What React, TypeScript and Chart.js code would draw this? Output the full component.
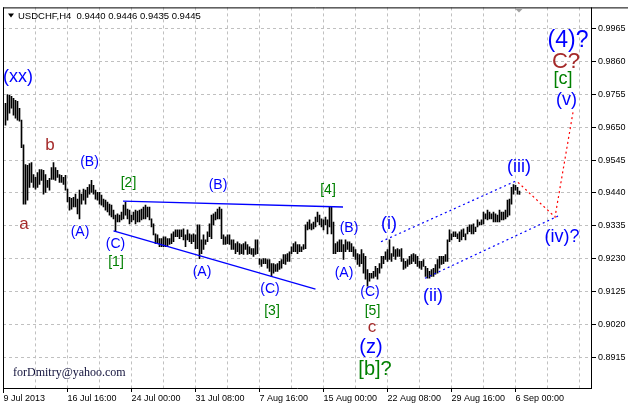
import React, { useEffect, useRef } from 'react';
import { Chart, registerables } from 'chart.js';

Chart.register(...registerables);

// ---- data: USDCHF H4 bars (high / low), oldest first ----
const barHigh = [
  0.9727, 0.9755, 0.9752, 0.9749, 0.9743, 0.9736, 0.9733, 0.9711, 0.9673, 0.9594,
  0.9531, 0.9528, 0.9534, 0.9537, 0.9499, 0.9490, 0.9505, 0.9515, 0.9515, 0.9512,
  0.9499, 0.9480, 0.9487, 0.9521, 0.9537, 0.9521, 0.9512, 0.9499, 0.9496, 0.9490,
  0.9496, 0.9452, 0.9426, 0.9423, 0.9426, 0.9436, 0.9420, 0.9449, 0.9436, 0.9452,
  0.9449, 0.9458, 0.9467, 0.9480, 0.9464, 0.9449, 0.9442, 0.9442, 0.9433, 0.9420,
  0.9417, 0.9411, 0.9404, 0.9401, 0.9385, 0.9369, 0.9373, 0.9369, 0.9379, 0.9401,
  0.9411, 0.9388, 0.9385, 0.9369, 0.9379, 0.9385, 0.9382, 0.9385, 0.9388, 0.9395,
  0.9401, 0.9395, 0.9395, 0.9357, 0.9341, 0.9309, 0.9306, 0.9294, 0.9294, 0.9300,
  0.9300, 0.9294, 0.9294, 0.9309, 0.9316, 0.9322, 0.9322, 0.9322, 0.9322, 0.9325,
  0.9306, 0.9322, 0.9309, 0.9306, 0.9309, 0.9306, 0.9338, 0.9338, 0.9290, 0.9306,
  0.9290, 0.9316, 0.9341, 0.9369, 0.9373, 0.9379, 0.9388, 0.9395, 0.9388, 0.9306,
  0.9300, 0.9306, 0.9306, 0.9290, 0.9290, 0.9278, 0.9284, 0.9278, 0.9275, 0.9278,
  0.9284, 0.9275, 0.9268, 0.9262, 0.9262, 0.9290, 0.9290, 0.9230, 0.9227, 0.9230,
  0.9230, 0.9227, 0.9227, 0.9214, 0.9214, 0.9211, 0.9214, 0.9221, 0.9227, 0.9243,
  0.9243, 0.9246, 0.9252, 0.9268, 0.9278, 0.9284, 0.9275, 0.9275, 0.9268, 0.9275,
  0.9338, 0.9347, 0.9354, 0.9341, 0.9347, 0.9363, 0.9379, 0.9369, 0.9357, 0.9354,
  0.9363, 0.9354, 0.9395, 0.9395, 0.9347, 0.9278, 0.9284, 0.9290, 0.9290, 0.9275,
  0.9290, 0.9284, 0.9284, 0.9278, 0.9268, 0.9259, 0.9246, 0.9243, 0.9259, 0.9246,
  0.9237, 0.9195, 0.9183, 0.9183, 0.9189, 0.9205, 0.9199, 0.9214, 0.9237, 0.9237,
  0.9252, 0.9259, 0.9290, 0.9246, 0.9268, 0.9259, 0.9262, 0.9259, 0.9262, 0.9230,
  0.9221, 0.9227, 0.9237, 0.9243, 0.9246, 0.9243, 0.9237, 0.9221, 0.9221, 0.9227,
  0.9205, 0.9199, 0.9189, 0.9195, 0.9199, 0.9211, 0.9227, 0.9237, 0.9237, 0.9237,
  0.9243, 0.9290, 0.9322, 0.9309, 0.9316, 0.9316, 0.9309, 0.9316, 0.9322, 0.9325,
  0.9309, 0.9331, 0.9338, 0.9338, 0.9341, 0.9331, 0.9354, 0.9347, 0.9354, 0.9379,
  0.9373, 0.9385, 0.9379, 0.9373, 0.9379, 0.9373, 0.9369, 0.9385, 0.9379, 0.9379,
  0.9385, 0.9417, 0.9420, 0.9458, 0.9467, 0.9464, 0.9458, 0.9446,
];

const barLow = [
  0.9657, 0.9673, 0.9695, 0.9711, 0.9689, 0.9679, 0.9673, 0.9670, 0.9585, 0.9404,
  0.9404, 0.9417, 0.9458, 0.9474, 0.9458, 0.9452, 0.9458, 0.9467, 0.9480, 0.9436,
  0.9442, 0.9458, 0.9449, 0.9483, 0.9483, 0.9480, 0.9490, 0.9474, 0.9474, 0.9467,
  0.9449, 0.9411, 0.9385, 0.9388, 0.9395, 0.9395, 0.9373, 0.9357, 0.9404, 0.9417,
  0.9404, 0.9426, 0.9436, 0.9442, 0.9436, 0.9420, 0.9417, 0.9404, 0.9401, 0.9395,
  0.9385, 0.9379, 0.9369, 0.9363, 0.9357, 0.9316, 0.9347, 0.9347, 0.9354, 0.9357,
  0.9369, 0.9357, 0.9341, 0.9347, 0.9354, 0.9341, 0.9347, 0.9347, 0.9354, 0.9357,
  0.9357, 0.9363, 0.9354, 0.9331, 0.9306, 0.9278, 0.9278, 0.9268, 0.9268, 0.9268,
  0.9268, 0.9268, 0.9275, 0.9278, 0.9284, 0.9300, 0.9300, 0.9294, 0.9300, 0.9290,
  0.9268, 0.9290, 0.9284, 0.9278, 0.9284, 0.9262, 0.9262, 0.9230, 0.9246, 0.9259,
  0.9275, 0.9284, 0.9300, 0.9294, 0.9338, 0.9354, 0.9357, 0.9357, 0.9294, 0.9275,
  0.9275, 0.9278, 0.9275, 0.9259, 0.9259, 0.9246, 0.9252, 0.9243, 0.9246, 0.9243,
  0.9259, 0.9243, 0.9246, 0.9243, 0.9237, 0.9243, 0.9246, 0.9211, 0.9205, 0.9214,
  0.9214, 0.9199, 0.9189, 0.9173, 0.9183, 0.9189, 0.9189, 0.9195, 0.9199, 0.9214,
  0.9211, 0.9221, 0.9221, 0.9246, 0.9252, 0.9252, 0.9246, 0.9252, 0.9252, 0.9259,
  0.9262, 0.9322, 0.9325, 0.9322, 0.9325, 0.9331, 0.9347, 0.9338, 0.9331, 0.9322,
  0.9338, 0.9309, 0.9331, 0.9309, 0.9246, 0.9246, 0.9252, 0.9252, 0.9252, 0.9227,
  0.9252, 0.9259, 0.9252, 0.9252, 0.9237, 0.9227, 0.9211, 0.9205, 0.9214, 0.9183,
  0.9164, 0.9142, 0.9158, 0.9167, 0.9167, 0.9173, 0.9164, 0.9183, 0.9199, 0.9214,
  0.9227, 0.9221, 0.9227, 0.9221, 0.9237, 0.9227, 0.9237, 0.9237, 0.9221, 0.9195,
  0.9199, 0.9205, 0.9211, 0.9214, 0.9221, 0.9214, 0.9205, 0.9199, 0.9195, 0.9205,
  0.9173, 0.9167, 0.9167, 0.9173, 0.9173, 0.9180, 0.9183, 0.9199, 0.9211, 0.9214,
  0.9221, 0.9221, 0.9284, 0.9290, 0.9300, 0.9300, 0.9294, 0.9284, 0.9290, 0.9300,
  0.9290, 0.9309, 0.9316, 0.9309, 0.9309, 0.9316, 0.9331, 0.9338, 0.9338, 0.9341,
  0.9357, 0.9354, 0.9357, 0.9357, 0.9347, 0.9347, 0.9347, 0.9347, 0.9354, 0.9354,
  0.9357, 0.9363, 0.9369, 0.9404, 0.9436, 0.9449, 0.9436, 0.9435,
];

// ---- axes ----
const yTickValues = [0.8915, 0.902, 0.9125, 0.923, 0.9335, 0.944, 0.9545, 0.965, 0.9755, 0.986, 0.9965];
const xTickIndex = [-1, 31, 63, 95, 127, 159, 191, 223, 255];
const xTickLabels = [
  '9 Jul 2013', '16 Jul 16:00', '24 Jul 00:00', '31 Jul 08:00', '7 Aug 16:00',
  '15 Aug 00:00', '22 Aug 08:00', '29 Aug 16:00', '6 Sep 00:00',
];
const xGridStep = 16;
const xMin = -1.25;
const xMax = 292.75;
const yMin = 0.8816;
const yMax = 1.00336;

const titleText = 'USDCHF,H4  0.9440 0.9446 0.9435 0.9445';
const watermarkText = 'forDmitry@yahoo.com';

// ---- drawn lines (bar index, price) ----
const triangleUpper = [{ x: 58.75, y: 0.9414 }, { x: 168.75, y: 0.9395 }];
const triangleLower = [{ x: 54, y: 0.9319 }, { x: 155, y: 0.9132 }];
const channelUpper = [{ x: 187.75, y: 0.9284 }, { x: 254.75, y: 0.9477 }];
const channelLower = [{ x: 209.75, y: 0.9167 }, { x: 276.25, y: 0.9366 }];
const projectionPath = [{ x: 256.25, y: 0.9474 }, { x: 274.75, y: 0.9363 }, { x: 283.75, y: 0.9698 }];

// ---- wave labels (text, bar index, price, style kind) ----
const waveLabels: [string, number, number, string][] = [
  ['(xx)', 6.25, 0.9811, 'blueMid'],
  ['a', 9.25, 0.9341, 'brownMid'],
  ['b', 22.25, 0.9591, 'brownMid'],
  ['(B)', 42, 0.9537, 'blueSmall'],
  ['(A)', 37.25, 0.9316, 'blueSmall'],
  ['[2]', 61.5, 0.9471, 'greenSmall'],
  ['(B)', 106.25, 0.9464, 'blueSmall'],
  ['(C)', 55, 0.9275, 'blueSmall'],
  ['[1]', 55.25, 0.9218, 'greenSmall'],
  ['(A)', 98.25, 0.9186, 'blueSmall'],
  ['(C)', 132.25, 0.9132, 'blueSmall'],
  ['[3]', 133.25, 0.9063, 'greenSmall'],
  ['[4]', 161.25, 0.9449, 'greenSmall'],
  ['(B)', 171.75, 0.9328, 'blueSmall'],
  ['(A)', 169.25, 0.9183, 'blueSmall'],
  ['(C)', 182.25, 0.9123, 'blueSmall'],
  ['[5]', 183.5, 0.9063, 'greenSmall'],
  ['c', 183.25, 0.9009, 'brownMid'],
  ['(z)', 182.75, 0.8946, 'blueBig'],
  ['[b]?', 184.75, 0.8876, 'greenBig'],
  ['(i)', 191.75, 0.9341, 'blueMid'],
  ['(ii)', 213.75, 0.911, 'blueMid'],
  ['(iii)', 256.75, 0.9524, 'blueMid'],
  ['(iv)?', 278.25, 0.93, 'blueMid'],
  ['(v)', 280.5, 0.9736, 'blueMid'],
  ['[c]', 278.75, 0.9803, 'greenMid'],
  ['C?', 280.25, 0.986, 'brownBig'],
  ['(4)?', 281.25, 0.9926, 'blueHuge'],
];

const BLUE = '#0000ff';
const GREEN = '#008000';
const BROWN = '#a52a2a';
const GRID = '#c0c0c0';
const SANS = '"Liberation Sans", Arial, sans-serif';

const labelStyles: Record<string, { color: string; size: number }> = {
  blueSmall: { color: BLUE, size: 14 },
  blueMid: { color: BLUE, size: 18 },
  blueBig: { color: BLUE, size: 20 },
  blueHuge: { color: BLUE, size: 23 },
  greenSmall: { color: GREEN, size: 14 },
  greenMid: { color: GREEN, size: 18 },
  greenBig: { color: GREEN, size: 20 },
  brownMid: { color: BROWN, size: 17 },
  brownBig: { color: BROWN, size: 22 },
};

const backgroundPlugin = {
  id: 'bg',
  beforeDraw(chart: any) {
    const { ctx, width, height } = chart;
    ctx.save();
    ctx.fillStyle = '#ffffff';
    ctx.fillRect(0, 0, width, height);
    ctx.restore();
  },
};

const labelPlugin = {
  id: 'waveLabels',
  afterDatasetsDraw(chart: any) {
    const { ctx } = chart;
    const xs = chart.scales.x;
    const ys = chart.scales.y;
    ctx.save();
    ctx.textAlign = 'center';
    ctx.textBaseline = 'middle';
    for (const [text, at, price, kind] of waveLabels) {
      const st = labelStyles[kind];
      ctx.font = `${st.size}px ${SANS}`;
      ctx.fillStyle = st.color;
      ctx.fillText(text, xs.getPixelForValue(at), ys.getPixelForValue(price));
    }
    ctx.restore();
  },
};

const framePlugin = {
  id: 'frame',
  afterDraw(chart: any) {
    const { ctx, chartArea, width } = chart;
    const { left, top, right, bottom } = chartArea;
    ctx.save();
    ctx.strokeStyle = '#000000';
    ctx.lineWidth = 1;
    ctx.beginPath();
    ctx.moveTo(left, top + 0.5);
    ctx.lineTo(width, top + 0.5);
    ctx.moveTo(left + 0.5, top);
    ctx.lineTo(left + 0.5, bottom + 5);
    ctx.moveTo(right + 0.5, top);
    ctx.lineTo(right + 0.5, bottom + 1);
    ctx.moveTo(left, bottom + 0.5);
    ctx.lineTo(right + 1, bottom + 0.5);
    ctx.stroke();

    // symbol menu arrow
    ctx.fillStyle = '#000000';
    ctx.beginPath();
    ctx.moveTo(left + 5, top + 6);
    ctx.lineTo(left + 11, top + 6);
    ctx.lineTo(left + 8, top + 10);
    ctx.closePath();
    ctx.fill();

    ctx.font = `9.5px ${SANS}`;
    ctx.textAlign = 'left';
    ctx.textBaseline = 'middle';
    ctx.fillText(titleText, left + 15, top + 8.5);

    // chart shift marker
    const sx = chart.scales.x.getPixelForValue(xTickIndex[xTickIndex.length - 1] + 1.75);
    ctx.fillStyle = '#a0a0a0';
    ctx.beginPath();
    ctx.moveTo(sx - 4, top + 1);
    ctx.lineTo(sx + 4, top + 1);
    ctx.lineTo(sx, top + 5);
    ctx.closePath();
    ctx.fill();

    ctx.font = '12px "Liberation Serif", "Times New Roman", serif';
    ctx.fillStyle = '#10103a';
    ctx.fillText(watermarkText, left + 10, bottom - 15);
    ctx.restore();
  },
};

export default function App() {
  const ref = useRef<HTMLCanvasElement>(null);

  useEffect(() => {
    const canvas = ref.current;
    if (!canvas) return;
    Chart.defaults.font.family = SANS;

    const bars = barHigh.map((h, i) => ({ x: i, y: [barLow[i], h] }));
    const lineDs = (data: any[], color: string, dash: number[], width: number) => ({
      type: 'line' as const,
      data,
      borderColor: color,
      borderWidth: width,
      borderDash: dash,
      pointRadius: 0,
      fill: false,
      tension: 0,
      order: 0,
    });

    const chart = new Chart(canvas, {
      type: 'bar',
      data: {
        datasets: [
          {
            type: 'bar',
            data: bars as any,
            backgroundColor: '#000000',
            borderWidth: 0,
            barThickness: 1,
            order: 10,
          } as any,
          lineDs(triangleUpper, BLUE, [], 1.3),
          lineDs(triangleLower, BLUE, [], 1.3),
          lineDs(channelUpper, BLUE, [2, 3], 1.2),
          lineDs(channelLower, BLUE, [2, 3], 1.2),
          lineDs(projectionPath, '#ff0000', [2, 3], 1.2),
        ],
      },
      options: {
        responsive: false,
        animation: false,
        devicePixelRatio: 1,
        events: [],
        layout: { padding: { left: 3, top: 3, right: 0, bottom: 0 } },
        plugins: { legend: { display: false }, tooltip: { enabled: false } },
        scales: {
          x: {
            type: 'linear',
            position: 'bottom',
            min: xMin,
            max: xMax,
            offset: false,
            grid: {
              offset: false,
              drawOnChartArea: true,
              color: (c: any) => (c.tick && c.tick.value === xTickIndex[0] ? 'rgba(0,0,0,0)' : GRID),
              tickColor: (c: any) => (c.tick && xTickIndex.includes(c.tick.value) ? '#000000' : 'rgba(0,0,0,0)'),
              tickLength: 4,
              lineWidth: 1,
            },
            border: { display: false, dash: [3, 3] },
            ticks: {
              autoSkip: false,
              maxRotation: 0,
              minRotation: 0,
              align: 'start',
              padding: 1,
              color: '#000000',
              font: { size: 9, family: SANS },
              callback: (v: any) => {
                const k = xTickIndex.indexOf(Number(v));
                return k >= 0 ? xTickLabels[k] : '';
              },
            },
            afterBuildTicks: (scale: any) => {
              const t = [];
              for (let v = xTickIndex[0]; v <= xMax; v += xGridStep) t.push({ value: v });
              scale.ticks = t;
            },
            afterFit: (scale: any) => {
              scale.height = 20;
            },
          } as any,
          y: {
            type: 'linear',
            position: 'right',
            min: yMin,
            max: yMax,
            grid: {
              color: GRID,
              tickColor: '#000000',
              tickLength: 5,
              lineWidth: 1,
            },
            border: { display: false, dash: [3, 3] },
            ticks: {
              padding: 2,
              color: '#000000',
              font: { size: 9, family: SANS },
              callback: (v: any) => Number(v).toFixed(4),
            },
            afterBuildTicks: (scale: any) => {
              scale.ticks = yTickValues.map((v) => ({ value: v }));
            },
            afterFit: (scale: any) => {
              scale.width = 37;
            },
          } as any,
        },
      },
      plugins: [backgroundPlugin, labelPlugin, framePlugin],
    });

    return () => chart.destroy();
  }, []);

  return (
    <div style={{ position: 'fixed', left: 0, top: 0, width: 628, height: 408, background: '#ffffff' }}>
      <canvas ref={ref} width={628} height={408} style={{ display: 'block', width: 628, height: 408 }} />
    </div>
  );
}
